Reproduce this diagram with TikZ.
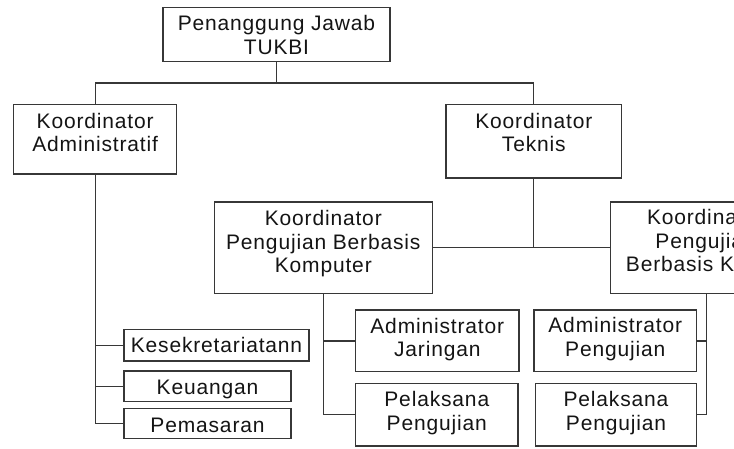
\documentclass[tikz,border=0pt]{standalone}
\usepackage{fontspec}
\setmainfont{Liberation Sans}[LetterSpace=4]
\definecolor{ln}{RGB}{55,55,55}
\definecolor{tx}{RGB}{20,20,20}
\tikzset{
  box/.style={draw=ln, line width=1.3pt, rectangle, inner sep=0pt, outer sep=0pt, anchor=north west},
  txt/.style={inner sep=0pt, outer sep=0pt, align=center, anchor=base, text=tx,
              font=\fontsize{21}{23.5}\selectfont},
  conn/.style={draw=ln, line width=1.3pt}
}
\begin{document}
\begin{tikzpicture}[x=1pt,y=-1pt]
\useasboundingbox (0,0) rectangle (734,448);
\clip (0,0) rectangle (734,448);
% boxes
\node[box, minimum width=227pt, minimum height=53.6pt] (top) at (163,7.7) {};
\node[box, minimum width=163pt, minimum height=69.3pt] (adm) at (13.7,104.7) {};
\node[box, minimum width=175.5pt, minimum height=73.3pt] (tek) at (446,104.7) {};
\node[box, minimum width=218pt, minimum height=91.3pt] (kpbk) at (214.3,202) {};
\node[box, minimum width=191pt, minimum height=91.3pt] (kpbkr) at (610.7,202) {};
\node[box, minimum width=163.4pt, minimum height=61.7pt] (adj) at (355.6,310) {};
\node[box, minimum width=162.4pt, minimum height=62.7pt] (pel1) at (355.6,383.3) {};
\node[box, minimum width=162.7pt, minimum height=61.7pt] (adp) at (534,310) {};
\node[box, minimum width=161.2pt, minimum height=62.7pt] (pel2) at (535.5,383.3) {};
\node[box, minimum width=185pt, minimum height=31.7pt] (kes) at (124,329.3) {};
\node[box, minimum width=167pt, minimum height=30.7pt] (keu) at (124,371) {};
\node[box, minimum width=167pt, minimum height=30pt] (pem) at (124,408.7) {};
% texts (anchor=base is the baseline of the last line)
\node[txt] (top-t) at (276.5,54.3) {Penanggung Jawab\\TUKBI};
\node[txt] (adm-t) at (95.2,151.8) {Koordinator\\Administratif};
\node[txt] (tek-t) at (533.8,151.8) {Koordinator\\Teknis};
\node[txt] (kpbk-t) at (323.3,272.7) {Koordinator\\Pengujian Berbasis\\Komputer};
\node[txt] (kpbkr-t) at (705.5,271.7) {Koordinator\\Pengujian\\Berbasis Kertas};
\node[txt] (adj-t) at (437.3,356.5) {Administrator\\Jaringan};
\node[txt] (pel1-t) at (436.8,430) {Pelaksana\\Pengujian};
\node[txt] (adp-t) at (615.3,356.2) {Administrator\\Pengujian};
\node[txt] (pel2-t) at (616,430) {Pelaksana\\Pengujian};
\node[txt] (kes-t) at (216.5,352.3) {Kesekretariatann};
\node[txt] (keu-t) at (207.5,394.3) {Keuangan};
\node[txt] (pem-t) at (207.5,432) {Pemasaran};
% connectors
\coordinate (j1) at (276.5,83);
\draw[conn] (top.south) -- (j1);
\draw[conn] (adm.north) |- (j1) -| (tek.north);
\draw[conn] (adm.south) |- (pem.west);
\draw[conn] (adm.south |- kes.west) -- (kes.west);
\draw[conn] (adm.south |- keu.west) -- (keu.west);
\draw[conn] (tek.south) -- (tek.south |- kpbk.east);
\draw[conn] (kpbk.east) -- (kpbkr.west);
\draw[conn] (kpbk.south) |- (pel1.west);
\draw[conn] (kpbk.south |- adj.west) -- (adj.west);
\draw[conn] (kpbkr.south) |- (pel2.east);
\draw[conn] (kpbkr.south |- adp.east) -- (adp.east);
\end{tikzpicture}
\end{document}
